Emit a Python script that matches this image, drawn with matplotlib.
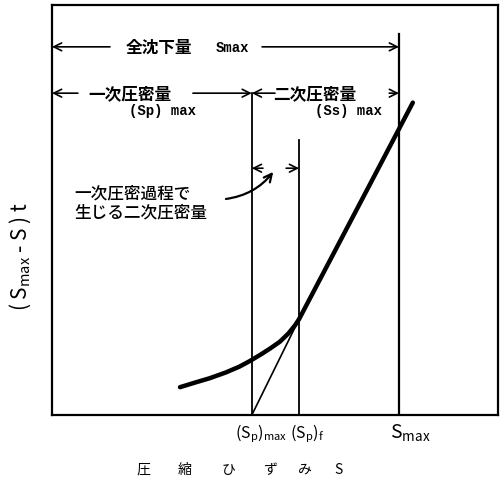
import matplotlib
matplotlib.use("Agg")
import matplotlib.pyplot as plt
from matplotlib.transforms import offset_copy

plt.rcParams['font.family'] = ['Noto Sans CJK JP', 'DejaVu Sans']
plt.rcParams['mathtext.fontset'] = 'dejavusans'
plt.rcParams['mathtext.default'] = 'regular'

# Characteristic strains (horizontal axis, arbitrary units 0-100)
sp_max = 44.8      # (Sp)max : end of primary consolidation
sp_f = 55.4        # (Sp)f
s_max = 77.8       # Smax : total settlement

# (Smax - S)t curve: curved part up to the knee, then straight part
curve_s = [28.7, 32.0, 35.4, 39.0, 42.0, 44.4, 47.0, 49.0, 51.1, 53.0,
           54.5, 55.4, 62.6, 70.0, 80.9]
curve_y = [6.8, 7.9, 9.0, 10.4, 11.8, 13.2, 14.9, 16.3, 17.9, 19.9,
           21.9, 23.4, 38.3, 53.6, 76.2]

# Thin tangent line from (Sp)max to the knee
tangent_s = [sp_max, sp_f]
tangent_y = [0.0, 23.4]

tick_labels = [r"$(S_p)_{max}$", r"$(S_p)_f$", r"$S_{max}$"]
xlabel_chars = ['圧', '縮', 'ひ', 'ず', 'み', 'S']

fig = plt.figure(figsize=(5.0, 4.81), dpi=100)
ax = fig.add_axes([0.104, 0.135, 0.892, 0.8525])
ax.set_xlim(0, 100)
ax.set_ylim(0, 100)
for sp in ax.spines.values():
    sp.set_linewidth(1.6)
ax.set_xticks([])
ax.set_yticks([])

# vertical reference lines
ax.plot([sp_max, sp_max], [0, 78.5], color='black', lw=1.3)
ax.plot([sp_f, sp_f], [0, 67.1], color='black', lw=1.3)
ax.plot([s_max, s_max], [0, 92.9], color='black', lw=1.6)

# curves
ax.plot(curve_s, curve_y, color='black', lw=3.2, solid_capstyle='round',
        solid_joinstyle='round')
ax.plot(tangent_s, tangent_y, color='black', lw=1.2)

arrow = dict(arrowstyle='->', color='black', lw=1.2, mutation_scale=14,
             shrinkA=0, shrinkB=0)

# row 1 : total settlement
y1 = 89.8
ax.annotate('', xy=(0, y1), xytext=(13.0, y1), arrowprops=arrow)
ax.annotate('', xy=(s_max, y1), xytext=(47.1, y1), arrowprops=arrow)
ax.text(24.0, y1, '全沈下量', ha='center', va='center', fontsize=12,
        fontweight='bold')
ax.text(40.4, y1, 'Smax', ha='center', va='center', fontsize=10,
        fontweight='bold', family='Liberation Mono')

# row 2 : primary / secondary consolidation
y2 = 78.5
ax.annotate('', xy=(0, y2), xytext=(5.8, y2), arrowprops=arrow)
ax.annotate('', xy=(sp_max, y2), xytext=(31.6, y2), arrowprops=arrow)
ax.text(17.5, y2, '一次圧密量', ha='center', va='center', fontsize=12,
        fontweight='bold')
ax.text(24.7, 74.4, '(Sp) max', ha='center', va='center', fontsize=10,
        fontweight='bold', family='Liberation Mono')
ax.annotate('', xy=(sp_max, y2), xytext=(50.0, y2), arrowprops=arrow)
ax.text(59.0, y2, '二次圧密量', ha='center', va='center', fontsize=12,
        fontweight='bold')
ax.annotate('', xy=(s_max, y2), xytext=(75.6, y2), arrowprops=arrow)
ax.text(66.4, 74.4, '(Ss) max', ha='center', va='center', fontsize=10,
        fontweight='bold', family='Liberation Mono')

# secondary compression occurring during primary consolidation
y3 = 60.2
ax.annotate('', xy=(sp_max, y3), xytext=(47.3, y3), arrowprops=arrow)
ax.annotate('', xy=(sp_f, y3), xytext=(52.5, y3), arrowprops=arrow)
ax.annotate('', xy=(49.6, 59.3), xytext=(39.0, 52.7),
            arrowprops=dict(arrowstyle='->', color='black', lw=1.6,
                            mutation_scale=14, shrinkA=0, shrinkB=0,
                            connectionstyle='arc3,rad=0.2'))
ax.text(5.0, 54.4, '一次圧密過程で', ha='left', va='center', fontsize=12,
        fontweight='medium')
ax.text(5.0, 49.6, '生じる二次圧密量', ha='left', va='center', fontsize=12,
        fontweight='medium')

# tick labels under the axis
for xv, lab, dx, fs in zip([sp_max, sp_f, s_max], tick_labels,
                           [-17, -9, -9], [11.5, 11.5, 14]):
    tr = offset_copy(ax.transData, fig=fig, x=dx, y=0, units='dots')
    ax.text(xv, -4.2, lab, transform=tr, ha='left', va='center',
            fontsize=fs)

# axis titles
for px, ch in zip([143, 185, 228, 270, 305, 338], xlabel_chars):
    fig.text(px / 500, 1 - 470 / 481, ch, ha='center', va='center',
             fontsize=10)
fig.text(0.040, 1 - 257 / 481, r'( S$_{max}$ - S ) t', ha='center',
         va='center', fontsize=15, rotation=90)

fig.savefig('out.png', dpi=100)
